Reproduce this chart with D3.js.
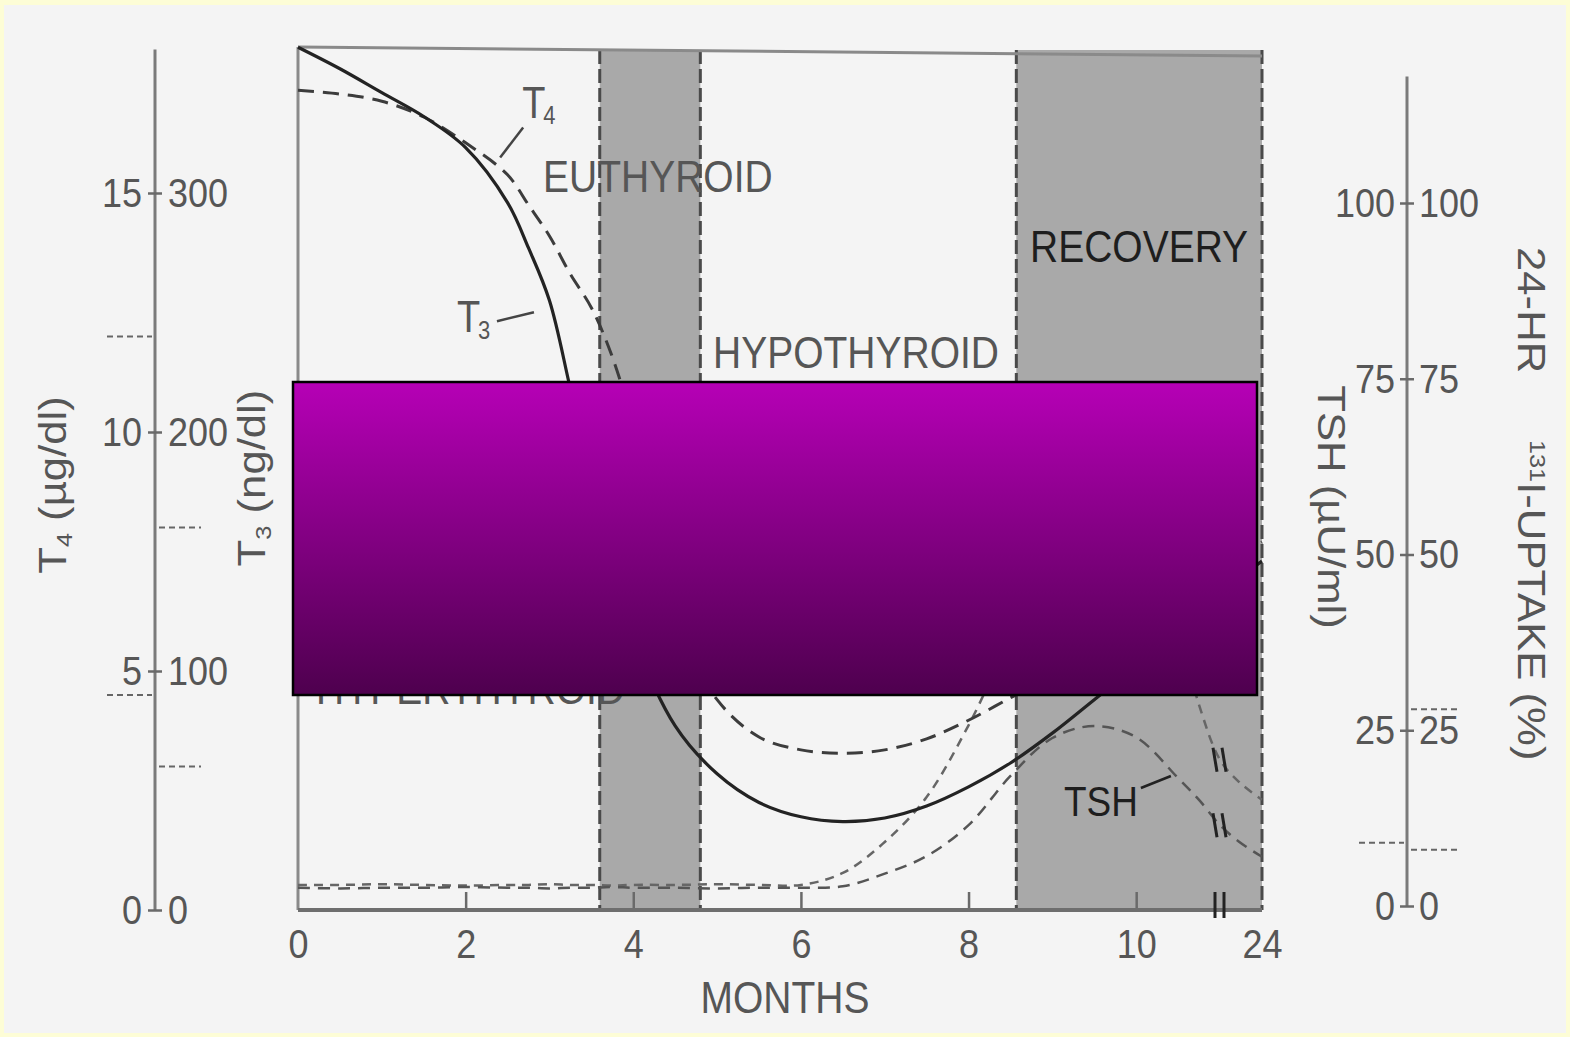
<!DOCTYPE html>
<html>
<head>
<meta charset="utf-8">
<script src="https://cdn.jsdelivr.net/npm/d3@7/dist/d3.min.js"></script>
<style>
  body { margin: 0; background: #fdfdd6; }
  svg { display: block; }
  text { font-family: "Liberation Sans", Arial, Helvetica, sans-serif; }
</style>
</head>
<body>
<div id="chart"></div>
<script>
// Data
const months = [0, 0.5, 1, 1.5, 2, 2.5, 2.75, 3, 3.25, 3.5, 3.75, 4, 4.5, 5, 5.5, 6, 6.5, 7, 7.5, 8, 8.5, 9, 9.5, 10, 10.5, 10.75, 11, 17, 24];
const t3 = [361, 352, 342, 332, 319, 296, 277, 255, 218, 180, 146, 115, 77, 57, 45, 39, 37, 38.5, 43.5, 51.5, 61.5, 74, 88, 102, 115, 119, 123, 138, 146];            // ng/dl
const t4 = [17.15, 17.07, 16.92, 16.59, 16.05, 15.38, 14.75, 14.1, 13.3, 12.6, 11.57, 10.1, 6.1, 4.4, 3.62, 3.35, 3.28, 3.35, 3.58, 3.97, 4.44, 4.9, 5.44, 5.96, 6.4, 6.55, 6.7, 7.3, 7.7]; // ug/dl
const tsh = [2.6, 2.5, 2.6, 2.6, 2.7, 2.6, 2.6, 2.5, 2.6, 2.6, 2.7, 2.6, 2.6, 2.5, 2.6, 2.6, 2.8, 4.6, 7.1, 11.5, 18.5, 23.9, 25.6, 24.0, 18.2, 15.1, 11.5, 9.1, 7.0];    // uU/ml
const uptake = [3.0, 3.0, 3.1, 3.0, 2.9, 3.0, 3.0, 3.1, 3.0, 3.0, 2.9, 3.0, 3.0, 3.1, 3.0, 3.0, 4.7, 9.1, 15.5, 25.7, 37.8, 47, 52, 50.6, 39.3, 28.6, 20.8, 17.6, 15.1]; // %

const monthTicks = [0, 2, 4, 6, 8, 10, 24];
const t4Ticks = [0, 5, 10, 15];
const t3Ticks = [0, 100, 200, 300];
const tshTicks = [0, 25, 50, 75, 100];
const uptakeTicks = [0, 25, 50, 75, 100];

const t4Normal = [4.5, 12];
const t3Normal = [60, 160];
const tshNormal = [9];
const uptakeNormal = [8, 28];

const shadeStart = [3.6, 8.57];
const shadeEnd = [4.8, 24];

const phaseNames = ["HYPERTHYROID", "EUTHYROID", "HYPOTHYROID", "RECOVERY"];

// Layout
const [W, H] = [1570, 1037];
const plotTop = 50, plotBottom = 910;
const stretch = 1.15;
const textColor = "#565656";

const x = d3.scaleLinear().domain([0, 11, 24]).range([298, 1220, 1262]);
const yT4 = d3.scaleLinear().domain([0, 15]).range([910, 193]);
const yT3 = d3.scaleLinear().domain([0, 300]).range([910, 193]);
const yTsh = d3.scaleLinear().domain([0, 100]).range([906, 203]);
const yUptake = d3.scaleLinear().domain([0, 100]).range([906, 203]);

const svg = d3.select("#chart").append("svg").attr("width", W).attr("height", H);

// helpers
const valueAt = (series, m) => {
  const i = Math.min(d3.bisectRight(months, m) - 1, months.length - 2);
  const t = (m - months[i]) / (months[i + 1] - months[i]);
  return series[i] + t * (series[i + 1] - series[i]);
};

const addText = (x0, y0, str, size, opts = {}) =>
  svg.append("text")
    .attr("transform", `translate(${x0},${y0}) scale(1,${stretch})`)
    .attr("font-size", size)
    .attr("fill", opts.fill || textColor)
    .attr("text-anchor", opts.anchor || "start")
    .text(str);

const addRotated = (x0, y0, angle, parts, anchor) => {
  const t = svg.append("text")
    .attr("transform", `translate(${x0},${y0}) rotate(${angle}) scale(${stretch},1)`)
    .attr("font-size", 38)
    .attr("fill", textColor)
    .attr("text-anchor", anchor)
    .attr("dy", "0.35em");
  let shift = 0;
  parts.forEach(p => {
    const dy = (p.dy || 0) - shift;
    shift = p.dy || 0;
    t.append("tspan").attr("font-size", p.size || 38).attr("dy", dy).text(p.text);
  });
  return t;
};

const styleAxis = g => {
  g.attr("font-size", null).attr("font-family", null);
  g.select(".domain").remove();
  g.selectAll(".tick line").attr("stroke", "#6a6a6a").attr("stroke-width", 2.5);
  g.selectAll(".tick text")
    .attr("font-size", 36)
    .attr("fill", textColor)
    .attr("transform", `scale(1,${stretch})`);
};

// Background
const drawBackground = () => {
  svg.append("rect").attr("width", W).attr("height", H).attr("fill", "#fdfdd6");
  svg.append("rect").attr("x", 4).attr("y", 5).attr("width", W - 8).attr("height", H - 9).attr("fill", "#f4f4f4");
};

// Shaded phases
const drawBands = () => {
  const bands = d3.zip(shadeStart, shadeEnd);
  svg.selectAll(".band").data(bands).join("rect")
    .attr("class", "band")
    .attr("x", d => x(d[0]))
    .attr("y", plotTop)
    .attr("width", d => x(d[1]) - x(d[0]))
    .attr("height", plotBottom - plotTop)
    .attr("fill", "#a9a9a9");

  svg.selectAll(".band-edge").data(shadeStart.concat(shadeEnd)).join("line")
    .attr("class", "band-edge")
    .attr("x1", d => x(d)).attr("x2", d => x(d))
    .attr("y1", plotTop).attr("y2", plotBottom)
    .attr("stroke", "#4a4a4a")
    .attr("stroke-width", 3)
    .attr("stroke-dasharray", "14,5");
};

const drawFrame = () => {
  svg.append("line").attr("x1", x(0)).attr("x2", x(0)).attr("y1", plotTop - 3).attr("y2", plotBottom)
    .attr("stroke", "#8a8a8a").attr("stroke-width", 3);
  svg.append("line").attr("x1", x(0)).attr("x2", x(24)).attr("y1", plotTop - 3).attr("y2", plotTop + 6)
    .attr("stroke", "#8a8a8a").attr("stroke-width", 3);
};

// Curves
const drawCurves = () => {
  const series = [
    { values: uptake, scale: yUptake, color: "#666", width: 2.5, dash: "9,7" },
    { values: tsh, scale: yTsh, color: "#555", width: 2.5, dash: "12,8" },
    { values: t4, scale: yT4, color: "#3c3c3c", width: 3, dash: "16,9" },
    { values: t3, scale: yT3, color: "#232323", width: 3.2, dash: null }
  ];
  series.forEach(s => {
    const line = d3.line()
      .x(d => x(d[0]))
      .y(d => s.scale(d[1]))
      .curve(d3.curveCatmullRom.alpha(0.5));
    svg.append("path")
      .datum(d3.zip(months, s.values))
      .attr("d", line)
      .attr("fill", "none")
      .attr("stroke", s.color)
      .attr("stroke-width", s.width)
      .attr("stroke-dasharray", s.dash);
  });

  // axis break marks on the curves that continue past month 11
  const breakAt = 11;
  [[tsh, yTsh], [uptake, yUptake]].forEach(([vals, sc]) => {
    const cy = sc(valueAt(vals, breakAt));
    [-5, 4].forEach(off => {
      svg.append("line")
        .attr("x1", x(breakAt) + off - 2).attr("x2", x(breakAt) + off + 2)
        .attr("y1", cy - 12).attr("y2", cy + 12)
        .attr("stroke", "#222").attr("stroke-width", 3);
    });
  });
};

// Axes
const drawAxes = () => {
  // months
  const gx = svg.append("g")
    .attr("transform", `translate(0,${plotBottom})`)
    .call(d3.axisBottom(x).tickValues(monthTicks).tickSizeInner(-18).tickSizeOuter(0).tickPadding(16).tickFormat(d3.format("d")))
    .call(styleAxis);
  gx.selectAll(".tick line").filter(d => d === 0 || d === 24).remove();
  svg.append("line").attr("x1", x(0)).attr("x2", x(24)).attr("y1", plotBottom).attr("y2", plotBottom)
    .attr("stroke", "#6e6e6e").attr("stroke-width", 4);
  [-5, 4].forEach(off => {
    svg.append("line")
      .attr("x1", x(11) + off).attr("x2", x(11) + off)
      .attr("y1", plotBottom - 18).attr("y2", plotBottom + 8)
      .attr("stroke", "#222").attr("stroke-width", 3);
  });
  addText(785, 1013, "MONTHS", 39, { anchor: "middle" });

  // T4 / T3
  const gl = svg.append("g").attr("transform", "translate(155,0)");
  gl.append("line").attr("y1", yT4(0)).attr("y2", yT4(18)).attr("stroke", "#7a7a7a").attr("stroke-width", 3);
  gl.append("g").call(d3.axisLeft(yT4).tickValues(t4Ticks).tickSize(7).tickPadding(6)).call(styleAxis);
  gl.append("g").call(d3.axisRight(yT3).tickValues(t3Ticks).tickSize(7).tickPadding(6)).call(styleAxis);
  gl.selectAll(".n4").data(t4Normal).join("line")
    .attr("x1", -48).attr("x2", -3).attr("y1", d => yT4(d)).attr("y2", d => yT4(d))
    .attr("stroke", "#666").attr("stroke-width", 2).attr("stroke-dasharray", "6,4");
  gl.selectAll(".n3").data(t3Normal).join("line")
    .attr("x1", 4).attr("x2", 46).attr("y1", d => yT3(d)).attr("y2", d => yT3(d))
    .attr("stroke", "#666").attr("stroke-width", 2).attr("stroke-dasharray", "6,4");

  // TSH / uptake
  const gr = svg.append("g").attr("transform", "translate(1407,0)");
  gr.append("line").attr("y1", yTsh(0)).attr("y2", yTsh(118)).attr("stroke", "#7a7a7a").attr("stroke-width", 3);
  gr.append("g").call(d3.axisLeft(yTsh).tickValues(tshTicks).tickSize(7).tickPadding(5)).call(styleAxis);
  gr.append("g").call(d3.axisRight(yUptake).tickValues(uptakeTicks).tickSize(7).tickPadding(5)).call(styleAxis);
  gr.selectAll(".nt").data(tshNormal).join("line")
    .attr("x1", -48).attr("x2", -3).attr("y1", d => yTsh(d)).attr("y2", d => yTsh(d))
    .attr("stroke", "#666").attr("stroke-width", 2).attr("stroke-dasharray", "6,4");
  gr.selectAll(".nu").data(uptakeNormal).join("line")
    .attr("x1", 4).attr("x2", 52).attr("y1", d => yUptake(d)).attr("y2", d => yUptake(d))
    .attr("stroke", "#666").attr("stroke-width", 2).attr("stroke-dasharray", "6,4");

  // axis titles
  addRotated(66, 485, -90, [{ text: "T" }, { text: "4", size: 22, dy: 6 }, { text: " (µg/dl)", dy: 0 }], "middle");
  addRotated(265, 478, -90, [{ text: "T" }, { text: "3", size: 22, dy: 6 }, { text: " (ng/dl)", dy: 0 }], "middle");
  addRotated(1318, 507, 90, [{ text: "TSH (µU/ml)" }], "middle");
  addRotated(1518, 247, 90, [{ text: "24-HR" }], "start");
  addRotated(1518, 440, 90, [{ text: "131", size: 22, dy: -12 }, { text: "I-UPTAKE (%)", dy: 0 }], "start");
};

// Phase and curve labels
const drawLabels = () => {
  addText(316, 704, phaseNames[0], 39);
  addText(543, 192, phaseNames[1], 39);
  addText(713, 368, phaseNames[2], 39);
  addText(1030, 262, phaseNames[3], 39, { fill: "#1e1e1e" });

  // T4 pointer
  const p4 = [x(2.4), yT4(valueAt(t4, 2.4))];
  svg.append("line").attr("x1", p4[0] + 1).attr("y1", p4[1] - 11).attr("x2", p4[0] + 24).attr("y2", p4[1] - 41)
    .attr("stroke", "#444").attr("stroke-width", 2.5);
  addText(p4[0] + 23, p4[1] - 50, "T", 38);
  addText(p4[0] + 44, p4[1] - 44, "4", 22);

  // T3 pointer
  const p3 = [x(3.03), yT3(valueAt(t3, 3.03))];
  svg.append("line").attr("x1", p3[0] - 18).attr("y1", p3[1] + 1).attr("x2", p3[0] - 55).attr("y2", p3[1] + 10)
    .attr("stroke", "#444").attr("stroke-width", 2.5);
  addText(p3[0] - 95, p3[1] + 21, "T", 38);
  addText(p3[0] - 74, p3[1] + 28, "3", 22);

  // TSH pointer
  const pt = [x(10.45), yTsh(valueAt(tsh, 10.45))];
  svg.append("line").attr("x1", pt[0] - 3).attr("y1", pt[1] + 2).attr("x2", pt[0] - 33).attr("y2", pt[1] + 14)
    .attr("stroke", "#222").attr("stroke-width", 2.5);
  addText(pt[0] - 36, pt[1] + 42, "TSH", 37, { fill: "#1e1e1e", anchor: "end" });
};

// Overlay block
const drawOverlay = () => {
  const grad = svg.append("defs").append("linearGradient")
    .attr("id", "mag").attr("x1", 0).attr("x2", 0).attr("y1", 0).attr("y2", 1);
  grad.append("stop").attr("offset", "0%").attr("stop-color", "#b600b6");
  grad.append("stop").attr("offset", "100%").attr("stop-color", "#4e004e");
  svg.append("rect")
    .attr("x", 293).attr("y", 382).attr("width", 964).attr("height", 313)
    .attr("fill", "url(#mag)")
    .attr("stroke", "#000").attr("stroke-width", 2.5);
};

drawBackground();
drawBands();
drawFrame();
drawCurves();
drawAxes();
drawLabels();
drawOverlay();
</script>
</body>
</html>
